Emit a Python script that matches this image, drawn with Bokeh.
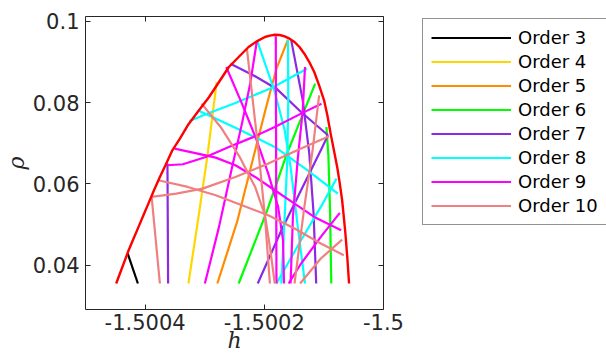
from bokeh.plotting import figure
from bokeh.layouts import row
from bokeh.models import Range1d, FixedTicker, LinearAxis, Legend, LegendItem
from bokeh.embed import file_html
from bokeh.resources import INLINE

# ---------------- data (h, rho) ----------------
boundary_h = [-1.5004485, -1.5004276, -1.5004193, -1.5004110, -1.5004028, -1.5003945,
              -1.5003851, -1.5003752, -1.5003658, -1.5003543, -1.5003416, -1.5003284,
              -1.5003118, -1.5002926, -1.5002760, -1.5002595, -1.5002430, -1.5002264,
              -1.5002127, -1.5001989, -1.5001906, -1.5001824, -1.5001741, -1.5001658,
              -1.5001576, -1.5001493, -1.5001410, -1.5001328, -1.5001245, -1.5001162,
              -1.5001080, -1.5000997, -1.5000942, -1.5000887, -1.5000832, -1.5000777,
              -1.5000733, -1.5000694, -1.5000666, -1.5000639, -1.5000606, -1.5000578]
boundary_rho = [0.03550, 0.04369, 0.04656, 0.04943, 0.05229, 0.05516,
                0.05844, 0.06172, 0.06459, 0.06828, 0.07115, 0.07443,
                0.07770, 0.08139, 0.08508, 0.08877, 0.09123, 0.09369,
                0.09508, 0.09615, 0.09648, 0.09672, 0.09664, 0.09631,
                0.09574, 0.09492, 0.09369, 0.09205, 0.09000, 0.08754,
                0.08426, 0.08057, 0.07689, 0.07238, 0.06828, 0.06418,
                0.06008, 0.05598, 0.05188, 0.04779, 0.04164, 0.03550]

order3_h = [[-1.5004292, -1.5004121]]
order3_rho = [[0.04287, 0.03550]]

order4_h = [[-1.5002799, -1.5002953, -1.5003096, -1.5003273]]
order4_rho = [[0.08508, 0.06705, 0.05270, 0.03550]]

order5_h = [[-1.5001603, -1.5001796, -1.5001961, -1.5002182, -1.5002457, -1.5002788]]
order5_rho = [[0.09549, 0.08836, 0.07934, 0.06664, 0.05065, 0.03550]]

order6_h = [[-1.5001146, -1.5001383, -1.5001631, -1.5001824, -1.5001961, -1.5002430],
            [-1.5000958, -1.5000925, -1.5000898, -1.5000876]]
order6_rho = [[0.08467, 0.07607, 0.06705, 0.05885, 0.05311, 0.03550],
              [0.07402, 0.06705, 0.05434, 0.03550]]

order7_h = [[-1.5003625, -1.5003614],
            [-1.5002567, -1.5002154, -1.5001796, -1.5001383, -1.5000931],
            [-1.5001548, -1.5001355, -1.5001245, -1.5001173, -1.5001129],
            [-1.5000931, -1.5001052, -1.5001383, -1.5001713, -1.5002110]]
order7_rho = [[0.06500, 0.03550],
              [0.08959, 0.08648, 0.08344, 0.07770, 0.07197],
              [0.09533, 0.08057, 0.06746, 0.05270, 0.03550],
              [0.07197, 0.06828, 0.05844, 0.04860, 0.03550]]

order8_h = [[-1.5003256, -1.5002926, -1.5002485, -1.5001879, -1.5001284],
            [-1.5003118, -1.5002485, -1.5001824, -1.5001273, -1.5000766],
            [-1.5002116, -1.5001824, -1.5001658, -1.5001559, -1.5001438, -1.5001317],
            [-1.5001603, -1.5001598, -1.5001614, -1.5001658, -1.5001713],
            [-1.5000788, -1.5001052, -1.5001383, -1.5001796]]
order8_rho = [[0.07549, 0.07746, 0.07992, 0.08361, 0.08836],
              [0.07811, 0.07385, 0.06910, 0.06336, 0.05762],
              [0.09508, 0.08262, 0.07320, 0.06418, 0.04943, 0.03550],
              [0.09549, 0.08057, 0.06582, 0.05188, 0.03550],
              [0.06131, 0.05434, 0.04615, 0.03550]]

order9_h = [[-1.5003504, -1.5003118, -1.5002815, -1.5002485, -1.5002154, -1.5001824,
             -1.5001493, -1.5001162, -1.5000711],
            [-1.5003625, -1.5003366, -1.5002981, -1.5002595, -1.5002209, -1.5001824,
             -1.5001383, -1.5001041],
            [-1.5002639, -1.5002375, -1.5002127, -1.5001934, -1.5001768, -1.5001686, -1.5001669],
            [-1.5002127, -1.5002237, -1.5002375, -1.5002540, -1.5002760, -1.5002997],
            [-1.5001807, -1.5001796],
            [-1.5000733, -1.5001052, -1.5001383, -1.5001592],
            [-1.5001317, -1.5001355, -1.5001438, -1.5001520, -1.5001559]]
order9_rho = [[0.06869, 0.06746, 0.06647, 0.06459, 0.06172, 0.05844, 0.05516, 0.05188, 0.04860],
              [0.06459, 0.06484, 0.06664, 0.06910, 0.07139, 0.07402, 0.07730, 0.07975],
              [0.08877, 0.07975, 0.07074, 0.06254, 0.05434, 0.04615, 0.03550],
              [0.09492, 0.08467, 0.07484, 0.06418, 0.04943, 0.03550],
              [0.09631, 0.03550],
              [0.05287, 0.04697, 0.04041, 0.03550],
              [0.08877, 0.07811, 0.06623, 0.05188, 0.03550]]

order10_h = [[-1.5003890, -1.5003752],
             [-1.5003890, -1.5003477, -1.5003036, -1.5002485, -1.5001934, -1.5001383, -1.5000914],
             [-1.5003780, -1.5003284, -1.5002815, -1.5002375, -1.5001934, -1.5001493,
              -1.5001052, -1.5000666],
             [-1.5003052, -1.5002733, -1.5002419, -1.5002154, -1.5001989, -1.5001906, -1.5001824],
             [-1.5002292, -1.5002099, -1.5001989, -1.5001906],
             [-1.5001080, -1.5001190, -1.5001328, -1.5001493],
             [-1.5000694, -1.5001052, -1.5001399]]
order10_rho = [[0.05680, 0.03550],
               [0.05680, 0.05762, 0.05885, 0.06172, 0.06500, 0.06869, 0.07172],
               [0.06090, 0.05926, 0.05721, 0.05475, 0.05229, 0.04902, 0.04533, 0.04246],
               [0.07975, 0.07402, 0.06680, 0.05926, 0.05229, 0.04451, 0.03550],
               [0.09328, 0.06828, 0.05188, 0.03550],
               [0.08180, 0.06828, 0.05434, 0.03550],
               [0.04631, 0.04164, 0.03550]]

orders = [3, 4, 5, 6, 7, 8, 9, 10]
order_colors = ["#000000", "#FFD700", "#FF8C00", "#00FF00", "#8A2BE2", "#00FFFF", "#FF00FF", "#F08080"]
order_h = [order3_h, order4_h, order5_h, order6_h, order7_h, order8_h, order9_h, order10_h]
order_rho = [order3_rho, order4_rho, order5_rho, order6_rho, order7_rho, order8_rho, order9_rho, order10_rho]

x_tick_values = [-1.5004, -1.5002, -1.5]
x_tick_labels = ["-1.5004", "-1.5002", "-1.5"]
y_tick_values = [0.04, 0.06, 0.08, 0.1]
y_tick_labels = ["0.04", "0.06", "0.08", "0.1"]
x_label = "h"
y_label = "ρ"

# ---------------- main figure ----------------
AX = "#262626"
MAIN_W = 410
p = figure(width=MAIN_W, height=358,
           x_range=Range1d(-1.5005, -1.5), y_range=Range1d(0.0291, 0.1012),
           output_backend="svg", toolbar_location=None,
           min_border_left=81, min_border_right=MAIN_W - 81 - 302,
           min_border_top=16, min_border_bottom=49)
p.grid.visible = False
p.outline_line_color = AX
p.outline_line_width = 1
p.background_fill_color = "white"
p.border_fill_color = "white"

def style_axis(ax):
    ax.axis_line_color = None
    ax.major_tick_in = 5
    ax.major_tick_out = 0
    ax.major_tick_line_color = AX
    ax.minor_tick_line_color = None
    ax.major_label_text_font = "DejaVu Sans"
    ax.major_label_text_font_size = "21px"
    ax.major_label_text_color = AX
    ax.axis_label_text_font = "DejaVu Serif"
    ax.axis_label_text_font_style = "italic"
    ax.axis_label_text_font_size = "22px"
    ax.axis_label_text_color = AX

xa = p.xaxis[0]
xa.ticker = FixedTicker(ticks=x_tick_values)
xa.major_label_overrides = dict(zip(x_tick_values, x_tick_labels))
style_axis(xa)
xa.major_label_standoff = 4
xa.axis_label = x_label
xa.axis_label_standoff = -5

ya = p.yaxis[0]
ya.ticker = FixedTicker(ticks=y_tick_values)
ya.major_label_overrides = dict(zip(y_tick_values, y_tick_labels))
style_axis(ya)
ya.major_label_standoff = 6
ya.axis_label = y_label
ya.axis_label_standoff = 1

top_ax = LinearAxis(ticker=FixedTicker(ticks=x_tick_values),
                    major_label_overrides={v: "" for v in x_tick_values},
                    major_label_standoff=0)
style_axis(top_ax)
top_ax.major_label_text_font_size = "0px"
p.add_layout(top_ax, "above")
right_ax = LinearAxis(ticker=FixedTicker(ticks=y_tick_values),
                      major_label_overrides={v: "" for v in y_tick_values},
                      major_label_standoff=0)
style_axis(right_ax)
right_ax.major_label_text_font_size = "0px"
p.add_layout(right_ax, "right")

for col, hs, rs in zip(order_colors, order_h, order_rho):
    p.multi_line(xs=hs, ys=rs, line_color=col, line_width=2.2)

p.line(boundary_h, boundary_rho, line_color="#FF0000", line_width=2.4)

# ---------------- legend panel ----------------
LEG_W = 606 - MAIN_W
q = figure(width=LEG_W, height=358, x_range=Range1d(0, 1), y_range=Range1d(0, 1),
           output_backend="svg", toolbar_location=None,
           x_axis_location=None, y_axis_location=None,
           min_border_left=0, min_border_right=0, min_border_top=16, min_border_bottom=49)
q.grid.visible = False
q.outline_line_color = None
q.background_fill_color = "white"
q.border_fill_color = "white"

items = []
for order, col in zip(orders, order_colors):
    r = q.multi_line(xs=[[]], ys=[[]], line_color=col, line_width=2.2)
    items.append(LegendItem(label="Order %d" % order, renderers=[r]))

legend = Legend(items=items, location=(422 - MAIN_W, 84), margin=0, padding=8,
                glyph_width=80, glyph_height=21, label_height=21, label_standoff=7,
                spacing=3, label_text_font="DejaVu Sans", label_text_font_size="18px",
                label_text_color="#000000", border_line_color=AX, border_line_width=1,
                background_fill_color="white", background_fill_alpha=1.0)
q.add_layout(legend)

layout = row(p, q, spacing=0)
open("out.html", "w").write(file_html(layout, INLINE))
